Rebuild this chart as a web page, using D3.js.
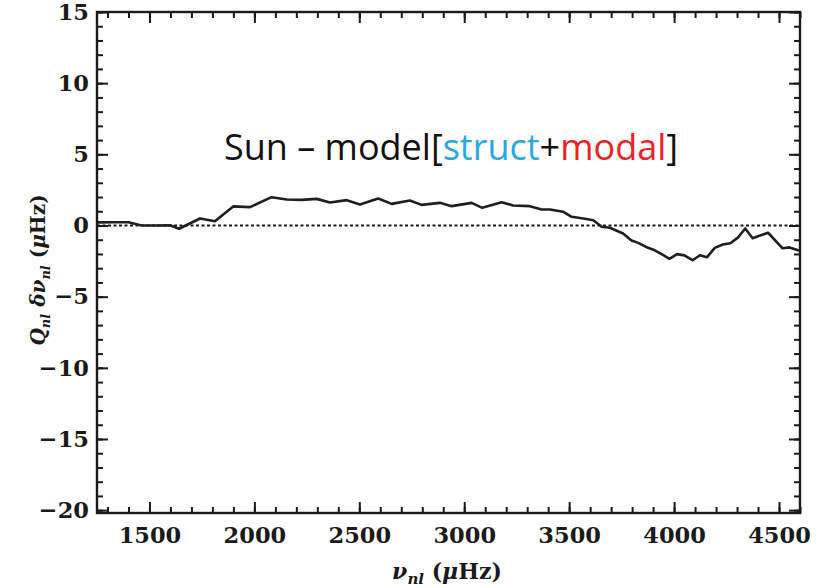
<!DOCTYPE html>
<html>
<head>
<meta charset="utf-8">
<script src="https://cdn.jsdelivr.net/npm/d3@7"></script>
<style>
  body { margin: 0; background: #fff; }
  svg text { fill: #1a1a1a; }
</style>
</head>
<body>
<div id="chart"></div>
<script>
// frequency (muHz) and scaled frequency difference (muHz)
var freq = [1250, 1330, 1400, 1463, 1530, 1598, 1641, 1741, 1812, 1899, 1979, 2082, 2154, 2225, 2297,
  2360, 2440, 2503, 2590, 2654, 2741, 2797, 2884, 2940, 3035, 3086, 3178, 3233, 3313, 3369,
  3408, 3472, 3512, 3575, 3615, 3655, 3694, 3757, 3797, 3829, 3876, 3908, 3945, 3978, 4014,
  4049, 4088, 4123, 4157, 4194, 4232, 4268, 4304, 4339, 4374, 4448, 4517, 4550, 4591, 4600];
var dnu = [0.22, 0.23, 0.23, 0.0, 0.0, 0.02, -0.23, 0.49, 0.30, 1.34, 1.29, 1.99, 1.83, 1.80, 1.87,
  1.62, 1.78, 1.48, 1.90, 1.52, 1.76, 1.45, 1.59, 1.36, 1.59, 1.24, 1.64, 1.41, 1.36, 1.12,
  1.12, 0.96, 0.61, 0.47, 0.37, -0.09, -0.16, -0.56, -1.05, -1.22, -1.57, -1.74, -2.05, -2.34, -2.01,
  -2.10, -2.44, -2.09, -2.23, -1.57, -1.34, -1.25, -0.85, -0.21, -0.89, -0.51, -1.60, -1.54, -1.74, -1.76];

var xTicks = [1500, 2000, 2500, 3000, 3500, 4000, 4500];
var yTicks = [-20, -15, -10, -5, 0, 5, 10, 15];
var xMinor = d3.range(1300, 4601, 100);
var yMinor = d3.range(-20, 16, 1);

var W = 818, H = 588;
var margin = { top: 12, right: 18, bottom: 75, left: 97 };
var width = W - margin.left - margin.right,
  height = H - margin.top - margin.bottom;

var svg = d3.select("#chart").append("svg").attr("width", W).attr("height", H);
var g = svg.append("g").attr("transform", "translate(" + margin.left + "," + margin.top + ")");

var x = d3.scaleLinear().domain([1250, 4600]).range([0, width]);
var y = d3.scaleLinear().domain([-20.2, 15]).range([height, 0]);

var tickFont = "bold 22.5px 'DejaVu Serif', serif";

function styleAxis(sel) {
  sel.select(".domain").remove();
  sel.selectAll(".tick line").attr("stroke", "#1a1a1a").attr("stroke-width", 2);
  sel.selectAll("text").style("font", tickFont);
}

// bottom
g.append("g").attr("transform", "translate(0," + height + ")")
  .call(d3.axisBottom(x).tickValues(xMinor).tickSizeInner(-6).tickSizeOuter(0).tickFormat(""))
  .call(styleAxis);
g.append("g").attr("transform", "translate(0," + height + ")")
  .call(d3.axisBottom(x).tickValues(xTicks).tickSizeInner(-11).tickSizeOuter(0).tickPadding(14).tickFormat(d3.format("d")))
  .call(styleAxis);
// top
g.append("g")
  .call(d3.axisTop(x).tickValues(xMinor).tickSizeInner(-6).tickSizeOuter(0).tickFormat(""))
  .call(styleAxis);
g.append("g")
  .call(d3.axisTop(x).tickValues(xTicks).tickSizeInner(-11).tickSizeOuter(0).tickFormat(""))
  .call(styleAxis);
// left
g.append("g")
  .call(d3.axisLeft(y).tickValues(yMinor).tickSizeInner(-6).tickSizeOuter(0).tickFormat(""))
  .call(styleAxis);
g.append("g")
  .call(d3.axisLeft(y).tickValues(yTicks).tickSizeInner(-11).tickSizeOuter(0).tickPadding(8)
    .tickFormat(function (d) { return d < 0 ? "\u2212" + Math.abs(d) : d; }))
  .call(styleAxis);
// right
g.append("g").attr("transform", "translate(" + width + ",0)")
  .call(d3.axisRight(y).tickValues(yMinor).tickSizeInner(-6).tickSizeOuter(0).tickFormat(""))
  .call(styleAxis);
g.append("g").attr("transform", "translate(" + width + ",0)")
  .call(d3.axisRight(y).tickValues(yTicks).tickSizeInner(-11).tickSizeOuter(0).tickFormat(""))
  .call(styleAxis);

// frame
g.append("rect").attr("width", width).attr("height", height)
  .attr("fill", "none").attr("stroke", "#1a1a1a").attr("stroke-width", 2.4);

// zero line
g.append("line")
  .attr("x1", 0).attr("x2", width)
  .attr("y1", y(0)).attr("y2", y(0))
  .attr("stroke", "#1a1a1a").attr("stroke-width", 2.2)
  .attr("stroke-dasharray", "3,2.5");

// curve
var pts = freq.map(function (f, i) { return [f, dnu[i]]; });
var line = d3.line().x(function (d) { return x(d[0]); }).y(function (d) { return y(d[1]); });
g.append("path").datum(pts).attr("d", line)
  .attr("fill", "none").attr("stroke", "#1f1f1f").attr("stroke-width", 2.6)
  .attr("stroke-linejoin", "round");

// annotation
var ann = svg.append("text").attr("x", 224).attr("y", 160)
  .style("font-family", "'Open Sans', Lato, sans-serif").style("font-size", "36px");
ann.append("tspan").text("Sun \u2013 model[").style("fill", "#111");
ann.append("tspan").text("struct").style("fill", "#2aa8e0");
ann.append("tspan").text("+").style("fill", "#111");
ann.append("tspan").text("modal").style("fill", "#ec2226");
ann.append("tspan").text("]").style("fill", "#111");

// x title
var xt = svg.append("text").attr("x", 447).attr("y", 579).attr("text-anchor", "middle")
  .style("font-family", "'DejaVu Serif', serif").style("font-weight", "bold").style("font-size", "22px");
xt.append("tspan").text("\u03bd").style("font-style", "italic");
xt.append("tspan").text("nl").attr("dy", 5).style("font-size", "15px").style("font-style", "italic");
xt.append("tspan").text(" (").attr("dy", -5);
xt.append("tspan").text("\u03bc").style("font-style", "italic");
xt.append("tspan").text("Hz)");

// y title
var yt = svg.append("text").attr("transform", "translate(45,270) rotate(-90)").attr("text-anchor", "middle")
  .style("font-family", "'DejaVu Serif', serif").style("font-weight", "bold").style("font-size", "20px");
yt.append("tspan").text("Q").style("font-style", "italic");
yt.append("tspan").text("nl").attr("dy", 5).style("font-size", "13px").style("font-style", "italic");
yt.append("tspan").text(" \u03b4\u03bd").attr("dy", -5).style("font-style", "italic");
yt.append("tspan").text("nl").attr("dy", 5).style("font-size", "13px").style("font-style", "italic");
yt.append("tspan").text(" (").attr("dy", -5);
yt.append("tspan").text("\u03bc").style("font-style", "italic");
yt.append("tspan").text("Hz)");
</script>
</body>
</html>
